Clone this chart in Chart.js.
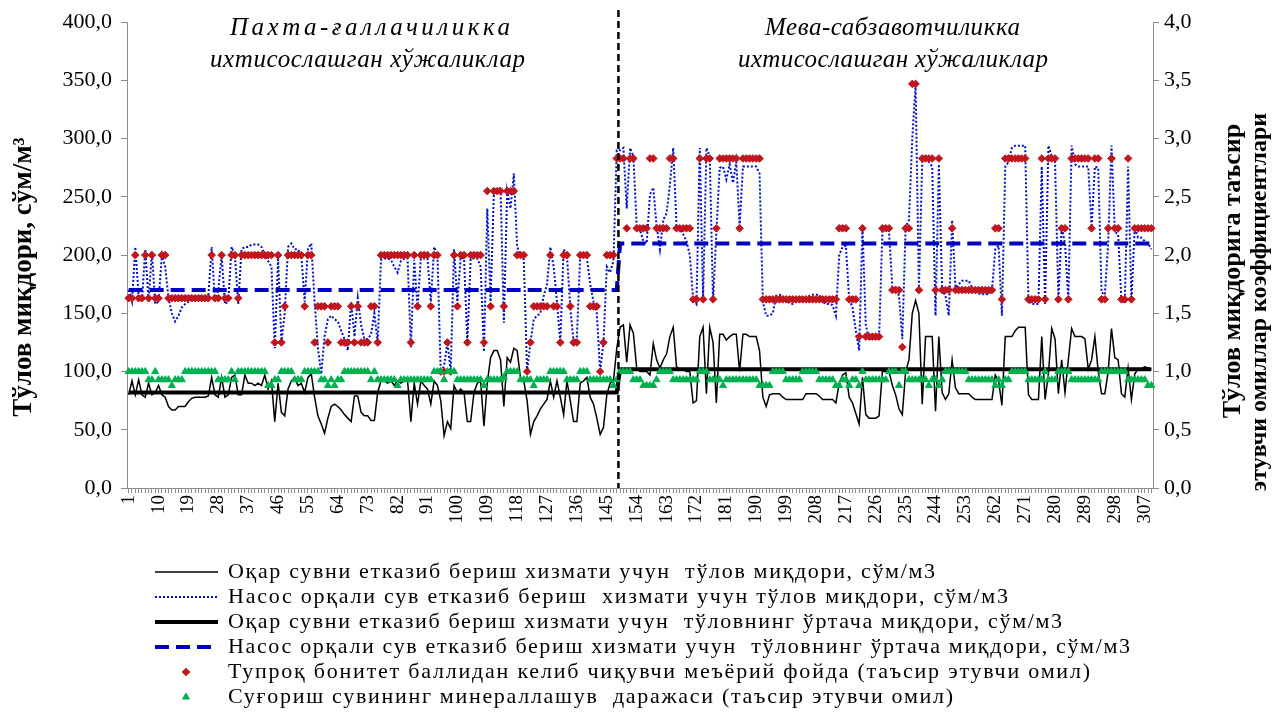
<!DOCTYPE html>
<html>
<head>
<meta charset="utf-8">
<script src="https://cdn.jsdelivr.net/npm/chart.js@4.4.1/dist/chart.umd.min.js"></script>
<style>
  html, body { margin: 0; padding: 0; background: #fff; }
  #wrap { width: 1273px; height: 714px; position: relative; }
</style>
</head>
<body>
<div id="wrap"><canvas id="chart"></canvas></div>
<script>
// farms 1..148 - cotton/grain, 149..309 - fruit/vegetable
const farmCount = 309;
const groupSplit = 148;
const farms = Array.from({ length: farmCount }, (_, i) => String(i + 1));

const groupNames = [
  ['Пахта-ғаллачиликка', 'ихтисослашган хўжаликлар'],
  ['Мева-сабзавотчиликка', 'ихтисослашган хўжаликлар']
];

// payment for gravity (ariq) water delivery, sum/m3
const gravityPay = [
  80,92,80,93,80,78,90,80,82,88,80,78,70,67,67,70,70,70,74,77,78,78,78,78,79,95,80,78,95,78,80,95,97,80,80,97,
  90,90,88,90,88,97,85,92,57,90,65,62,85,92,95,88,90,82,95,98,78,62,55,47,60,70,72,70,67,63,60,57,79,79,65,62,62,58,
  58,82,92,92,90,92,88,92,90,92,92,57,90,72,92,88,85,72,92,88,75,45,57,51,88,82,85,82,57,57,82,90,92,53,90,112,118,118,110,
  70,112,108,120,118,95,92,75,46,57,62,68,72,76,92,78,92,78,63,92,75,57,57,90,92,95,78,72,60,46,52,80,90,92,120,138,140,
  108,140,133,103,100,100,100,97,124,110,103,110,115,130,138,104,102,102,100,100,73,75,130,138,81,138,125,73,132,132,127,130,132,132,100,132,132,
  130,130,130,118,78,70,80,81,81,81,78,76,76,76,76,76,76,81,81,81,81,79,76,76,76,76,73,90,97,99,78,73,64,55,95,63,60,60,60,
  62,100,100,100,88,80,68,63,100,110,150,161,150,72,130,130,130,66,130,82,76,81,110,86,81,81,81,81,78,76,76,76,76,76,76,97,92,
  71,130,130,130,135,138,138,138,80,76,76,76,130,76,98,137,128,81,110,82,110,137,130,130,130,128,102,110,130,100,81,81,100,137,112,110,81,78,103,76,98,102,102,104,103,102
];

// payment for pumped water delivery, sum/m3
const pumpPay = [
  170,160,207,165,160,205,160,203,158,160,200,190,163,150,143,148,155,158,160,162,162,162,162,163,165,207,160,170,200,158,160,207,200,158,205,207,
  207,209,209,209,207,200,195,190,120,198,125,150,207,210,205,205,200,160,205,210,160,120,98,130,145,148,145,143,135,128,118,160,130,163,140,128,128,132,
  150,125,196,197,197,196,190,185,195,197,197,121,196,155,197,197,197,160,207,200,98,105,125,100,205,160,198,197,125,197,197,197,190,117,240,160,255,
  255,258,142,255,240,270,207,200,196,100,125,145,148,150,165,175,207,190,160,125,205,200,155,125,130,200,202,198,175,160,150,100,125,190,185,195,290,290,292,
  240,292,285,225,222,212,210,252,258,225,205,230,236,260,292,225,222,218,212,200,162,158,292,162,292,285,160,220,275,276,265,278,262,280,225,276,276,
  276,276,276,270,160,148,148,150,165,166,165,160,159,158,160,160,163,163,165,166,166,166,160,158,158,157,148,200,207,208,162,155,135,118,224,140,128,128,128,
  128,220,225,220,172,172,165,128,224,230,300,346,172,280,282,280,276,148,278,170,165,148,230,172,175,178,178,178,172,168,167,166,167,166,170,205,208,
  148,276,280,292,294,294,294,294,160,158,158,158,276,158,294,285,280,162,224,210,162,294,278,276,276,276,276,224,276,275,168,166,210,294,220,218,160,160,276,160,224,215,215,212,210,205
];

// group averages: [cotton/grain, fruit/vegetable]
const avgGravity = [82, 102];
const avgPump = [170, 210];

// normative profit from soil bonitet (factor, right axis)
const soilFactor = [
  1.63,1.63,2.0,1.63,1.63,2.0,1.63,2.0,1.63,1.63,2.0,2.0,1.63,1.63,1.63,1.63,1.63,1.63,1.63,1.63,1.63,1.63,1.63,1.63,1.63,2.0,1.63,1.63,2.0,1.63,1.63,2.0,2.0,1.63,2.0,2.0,
  2.0,2.0,2.0,2.0,2.0,2.0,2.0,2.0,1.25,2.0,1.25,1.56,2.0,2.0,2.0,2.0,2.0,1.56,2.0,2.0,1.25,1.56,1.56,1.56,1.25,1.56,1.56,1.56,1.25,1.25,1.25,1.56,1.25,1.56,1.25,1.25,1.25,1.56,
  1.56,1.25,2.0,2.0,2.0,2.0,2.0,2.0,2.0,2.0,2.0,1.25,2.0,1.56,2.0,2.0,2.0,1.56,2.0,2.0,1.0,1.0,1.25,1.0,2.0,1.56,2.0,2.0,1.25,2.0,2.0,2.0,2.0,1.25,2.55,1.56,2.55,2.55,2.55,
  1.56,2.55,2.55,2.55,2.0,2.0,2.0,1.0,1.25,1.56,1.56,1.56,1.56,1.56,2.0,1.56,1.56,1.25,2.0,2.0,1.56,1.25,1.25,2.0,2.0,2.0,1.56,1.56,1.56,1.0,1.25,2.0,2.0,2.0,2.83,2.83,2.83,
  2.23,2.83,2.83,2.23,2.23,2.23,2.23,2.83,2.83,2.23,2.23,2.23,2.23,2.83,2.83,2.23,2.23,2.23,2.23,2.23,1.62,1.62,2.83,1.62,2.83,2.83,1.62,2.23,2.83,2.83,2.83,2.83,2.83,2.83,2.23,2.83,2.83,
  2.83,2.83,2.83,2.83,1.62,1.62,1.62,1.62,1.62,1.62,1.62,1.62,1.62,1.62,1.62,1.62,1.62,1.62,1.62,1.62,1.62,1.62,1.62,1.62,1.62,1.62,1.62,2.23,2.23,2.23,1.62,1.62,1.62,1.30,2.23,1.30,1.30,1.30,1.30,
  1.30,2.23,2.23,2.23,1.70,1.70,1.70,1.21,2.23,2.23,3.47,3.47,1.70,2.83,2.83,2.83,2.83,1.70,2.83,1.70,1.70,1.70,2.23,1.70,1.70,1.70,1.70,1.70,1.70,1.70,1.70,1.70,1.70,1.70,1.70,2.23,2.23,
  1.62,2.83,2.83,2.83,2.83,2.83,2.83,2.83,1.62,1.62,1.62,1.62,2.83,1.62,2.83,2.83,2.83,1.62,2.23,2.23,1.62,2.83,2.83,2.83,2.83,2.83,2.83,2.23,2.83,2.83,1.62,1.62,2.23,2.83,2.23,2.23,1.62,1.62,2.83,1.62,2.23,2.23,2.23,2.23,2.23,2.23
];

// irrigation water mineralisation (factor, right axis)
const mineralFactor = [
  1,1,1,1,1,1,.93,.93,1,.93,.93,.93,.93,.88,.93,.93,.93,1,1,1,1,1,1,1,1,1,1,.93,.93,.93,.93,1,.93,1,1,1,
  1,1,1,1,1,1,.88,.88,.93,.93,1,1,1,1,.93,.93,.93,1,1,1,1,1,.93,.93,.88,.93,.88,.93,.93,1,1,1,1,1,1,1,1,.93,
  1,.93,.93,.93,.93,.93,.93,.88,.93,.93,.93,.93,.93,.93,.93,.93,.93,.93,1,1,1,.93,1,1,1,.93,.93,.93,.93,.93,.93,.93,.93,.88,.93,.93,.93,.93,.93,
  .95,1,1,1,1,.93,.93,.93,.93,.88,.93,.93,.93,.93,1,1,1,1,1,.93,.93,.93,.93,1,1,1,.93,.93,.93,.93,.93,.93,.93,.88,.93,1,1,
  1,1,.93,.93,.93,.88,.88,.88,.88,.93,1,1,1,1,.93,.93,.93,.93,.93,.93,.93,.93,1,1,1,.93,.93,.93,.93,.88,.93,.93,.93,.93,.93,.93,.93,
  .93,.93,.93,.88,.88,.88,.88,1,1,1,1,.93,.93,.93,.93,.93,1,1,1,1,1,.93,.93,.93,.93,.93,.88,.88,.93,.93,.88,.93,.93,.88,1,.93,.93,.93,.93,
  .93,.93,.93,1,1,1,.88,1,1,.93,.93,.93,.93,.93,.93,.88,.93,.93,.88,.93,1,1,1,1,1,1,1,.93,.93,.93,.93,.93,.93,.93,.93,.88,.93,
  .88,.93,.93,1,1,1,1,1,.93,.93,.93,.93,.93,1,.93,.93,.93,1,1,1,1,.93,.93,.93,.93,.93,.93,.93,.93,.93,1,1,1,1,1,1,1,1,.93,.93,.93,.93,.93,.93,.88,.88
];

const legendTexts = [
  'Оқар сувни етказиб бериш хизмати учун  тўлов миқдори, сўм/м3',
  'Насос орқали сув етказиб бериш  хизмати учун тўлов миқдори, сўм/м3',
  'Оқар сувни етказиб бериш хизмати учун  тўловнинг ўртача миқдори, сўм/м3',
  'Насос орқали сув етказиб бериш хизмати учун  тўловнинг ўртача миқдори, сўм/м3',
  'Тупроқ бонитет баллидан келиб чиқувчи меъёрий фойда (таъсир этувчи омил)',
  'Суғориш сувининг минераллашув  даражаси (таъсир этувчи омил)'
];

const serif = "'Liberation Serif', 'Times New Roman', serif";
const fmt = v => Number(v).toFixed(1).replace('.', ',');
const byGroup = pair => farms.map((_, i) => (i < groupSplit ? pair[0] : pair[1]));

// draw text stretched to a given width by letter spacing
function spacedText(ctx, txt, x, y, width) {
  const plain = ctx.measureText(txt).width;
  const gap = Math.max(0, (width - plain) / Math.max(1, txt.length - 1));
  if ('letterSpacing' in ctx) {
    ctx.letterSpacing = gap + 'px';
    ctx.fillText(txt, x, y);
    ctx.letterSpacing = '0px';
  } else {
    ctx.fillText(txt, x, y);
  }
}

// divider, group captions, axis titles and legend
const overlay = {
  id: 'overlay',
  afterDatasetsDraw(chart) {
    const ctx = chart.ctx;
    const xs = chart.scales.x;
    const area = chart.chartArea;
    const xd = (xs.getPixelForValue(groupSplit - 1) + xs.getPixelForValue(groupSplit)) / 2;
    ctx.save();
    ctx.strokeStyle = '#000';
    ctx.lineWidth = 2.5;
    ctx.setLineDash([7, 4]);
    ctx.beginPath();
    ctx.moveTo(xd, 10);
    ctx.lineTo(xd, area.bottom);
    ctx.stroke();
    ctx.restore();
  },
  afterDraw(chart) {
    const ctx = chart.ctx;
    ctx.save();
    ctx.fillStyle = '#000';
    ctx.textBaseline = 'middle';

    // group captions
    ctx.font = 'italic 25px ' + serif;
    ctx.textAlign = 'left';
    spacedText(ctx, groupNames[0][0], 230, 28, 280);
    spacedText(ctx, groupNames[0][1], 210, 60, 315);
    spacedText(ctx, groupNames[1][0], 765, 28, 255);
    spacedText(ctx, groupNames[1][1], 738, 60, 310);

    // axis titles
    ctx.textAlign = 'center';
    const vtext = (txt, x, y, size) => {
      ctx.save();
      ctx.font = 'bold ' + size + 'px ' + serif;
      ctx.translate(x, y);
      ctx.rotate(-Math.PI / 2);
      ctx.fillText(txt, 0, 0);
      ctx.restore();
    };
    vtext('Тўлов миқдори, сўм/м³', 24, 277, 27);
    vtext('Тўлов миқдорига таъсир', 1233, 271, 26);
    vtext('этувчи омиллар коэффициентлари', 1260, 302, 24);

    // legend
    const widths = [707, 780, 834, 902, 862, 725];
    ctx.font = '22px ' + serif;
    ctx.textAlign = 'left';
    chart.data.datasets.forEach((ds, i) => {
      const y = 572 + i * 25;
      if (ds.showLine !== false) {
        ctx.save();
        ctx.strokeStyle = ds.borderColor;
        ctx.lineWidth = ds.borderWidth;
        ctx.setLineDash(ds.borderDash || []);
        ctx.beginPath();
        ctx.moveTo(155, y);
        ctx.lineTo(218, y);
        ctx.stroke();
        ctx.restore();
      } else {
        ctx.save();
        ctx.fillStyle = ds.pointBackgroundColor;
        ctx.strokeStyle = ds.pointBorderColor;
        Chart.helpers.drawPoint(ctx, { pointStyle: ds.pointStyle, radius: ds.pointRadius, rotation: 0, borderWidth: 1 }, 186, y);
        ctx.restore();
      }
      ctx.fillStyle = '#000';
      spacedText(ctx, legendTexts[i], 228, y, widths[i]);
    });
    ctx.restore();
  }
};

new Chart(document.getElementById('chart'), {
  type: 'line',
  data: {
    labels: farms,
    datasets: [
      { data: gravityPay, yAxisID: 'y', borderColor: '#000', borderWidth: 1.5, pointRadius: 0, order: 5 },
      { data: pumpPay, yAxisID: 'y', borderColor: '#0010C8', borderWidth: 2, borderDash: [2, 2], pointRadius: 0, order: 4 },
      { data: byGroup(avgGravity), yAxisID: 'y', borderColor: '#000', borderWidth: 4, pointRadius: 0, order: 3 },
      { data: byGroup(avgPump), yAxisID: 'y', borderColor: '#0000C0', borderWidth: 4, borderDash: [14, 7], pointRadius: 0, order: 2 },
      { data: soilFactor, yAxisID: 'y2', showLine: false, pointStyle: 'rectRot', pointRadius: 3.8,
        pointBackgroundColor: '#C0161E', pointBorderColor: '#C0161E', order: 1 },
      { data: mineralFactor, yAxisID: 'y2', showLine: false, pointStyle: 'triangle', pointRadius: 4,
        pointBackgroundColor: '#00B050', pointBorderColor: '#00B050', order: 0 }
    ]
  },
  options: {
    responsive: true,
    maintainAspectRatio: false,
    animation: false,
    devicePixelRatio: 1,
    layout: { padding: { top: 22, left: 0, right: 0, bottom: 0 } },
    elements: { line: { tension: 0 } },
    plugins: { legend: { display: false }, tooltip: { enabled: false } },
    scales: {
      x: {
        offset: true,
        grid: { drawOnChartArea: false, tickLength: 5, color: '#8c8c8c' },
        border: { color: '#8c8c8c' },
        ticks: {
          autoSkip: false, minRotation: 90, maxRotation: 90, padding: 2, color: '#000',
          font: { family: serif, size: 19 },
          callback: (v, i) => (i % 9 === 0 ? farms[i] : '')
        },
        afterFit: s => { s.height = 226; }
      },
      y: {
        position: 'left', min: 0, max: 400,
        grid: { drawOnChartArea: false, tickLength: 6, color: '#8c8c8c' },
        border: { color: '#8c8c8c' },
        ticks: { stepSize: 50, padding: 9, color: '#000', font: { family: serif, size: 22 }, callback: v => fmt(v) },
        afterFit: s => { s.width = 127; }
      },
      y2: {
        position: 'right', min: 0, max: 4,
        grid: { drawOnChartArea: false, tickLength: 6, color: '#8c8c8c' },
        border: { color: '#8c8c8c' },
        ticks: { stepSize: 0.5, padding: 5, color: '#000', font: { family: serif, size: 22 }, callback: v => fmt(v) },
        afterFit: s => { s.width = 120; }
      }
    }
  },
  plugins: [overlay]
});
</script>
</body>
</html>
